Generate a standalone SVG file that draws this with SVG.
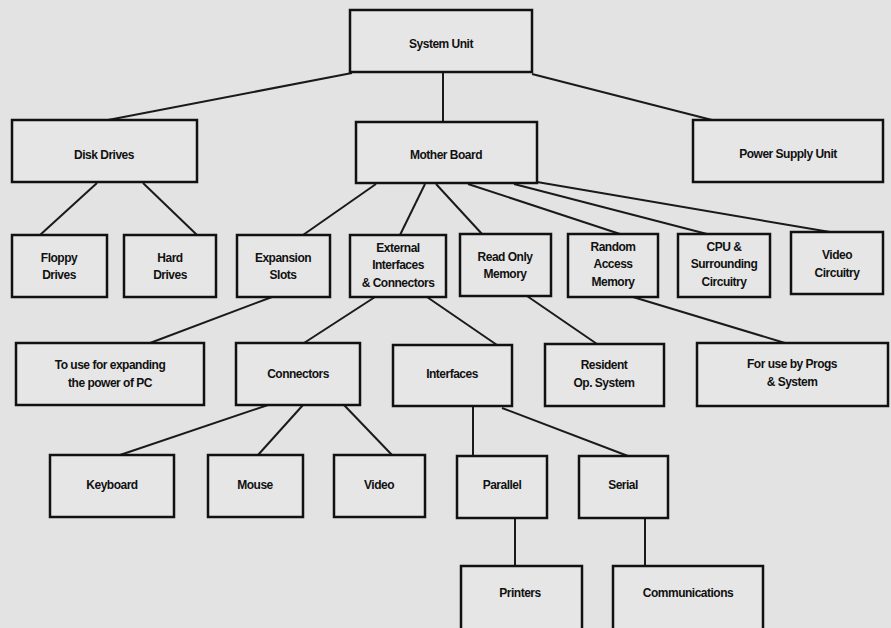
<svg xmlns="http://www.w3.org/2000/svg" width="891" height="628" viewBox="0 0 891 628">
<style>
.bg{fill:#e3e3e3}
.n rect{fill:#e6e6e6;stroke:#111;stroke-width:2.5}
.n text{font-family:"Liberation Sans",Arial,sans-serif;font-weight:bold;font-size:12px;letter-spacing:-0.5px;fill:#111;text-anchor:middle}
#edges line{stroke:#1a1a1a;stroke-width:2}
</style>
<rect class="bg" x="0" y="0" width="891" height="628"/>
<g id="edges">
<line x1="352" y1="73" x2="108" y2="120"/>
<line x1="443" y1="72" x2="443" y2="122"/>
<line x1="532" y1="74" x2="712" y2="120"/>
<line x1="97" y1="183" x2="40" y2="235"/>
<line x1="143" y1="183" x2="197" y2="235"/>
<line x1="376" y1="184" x2="303" y2="235"/>
<line x1="425" y1="184" x2="400" y2="235"/>
<line x1="436" y1="184" x2="482" y2="234"/>
<line x1="468" y1="184" x2="620" y2="234"/>
<line x1="514" y1="184" x2="707" y2="234"/>
<line x1="537" y1="182" x2="830" y2="232"/>
<line x1="272" y1="297" x2="150" y2="343"/>
<line x1="375" y1="297" x2="304" y2="343"/>
<line x1="427" y1="297" x2="497" y2="345"/>
<line x1="527" y1="296" x2="597" y2="344"/>
<line x1="633" y1="297" x2="785" y2="343"/>
<line x1="268" y1="405" x2="120" y2="455"/>
<line x1="303" y1="405" x2="258" y2="455"/>
<line x1="344" y1="405" x2="392" y2="455"/>
<line x1="473" y1="406" x2="473" y2="456"/>
<line x1="502" y1="408" x2="628" y2="456"/>
<line x1="515" y1="518" x2="515" y2="567"/>
<line x1="645" y1="518" x2="645" y2="567"/>
</g>
<g id="system-unit" class="n"><rect x="350" y="10" width="182" height="62"/><text x="441" y="48">System Unit</text></g>
<g id="disk-drives" class="n"><rect x="12" y="120" width="185" height="62"/><text x="104" y="159">Disk Drives</text></g>
<g id="mother-board" class="n"><rect x="356" y="122" width="181" height="61"/><text x="446" y="159">Mother Board</text></g>
<g id="power-supply" class="n"><rect x="693" y="120" width="190" height="62"/><text x="788" y="158">Power Supply Unit</text></g>
<g id="floppy" class="n"><rect x="12" y="235" width="95" height="62"/><text x="59" y="262">Floppy</text><text x="59" y="279">Drives</text></g>
<g id="hard" class="n"><rect x="124" y="235" width="92" height="62"/><text x="170" y="262">Hard</text><text x="170" y="279">Drives</text></g>
<g id="expansion" class="n"><rect x="237" y="235" width="93" height="62"/><text x="283" y="262">Expansion</text><text x="283" y="279">Slots</text></g>
<g id="external" class="n"><rect x="350" y="235" width="96" height="62"/><text x="398" y="252">External</text><text x="398" y="269">Interfaces</text><text x="398" y="287">&amp; Connectors</text></g>
<g id="rom" class="n"><rect x="460" y="234" width="91" height="62"/><text x="505" y="261">Read Only</text><text x="505" y="278">Memory</text></g>
<g id="ram" class="n"><rect x="568" y="234" width="90" height="63"/><text x="613" y="251">Random</text><text x="613" y="268">Access</text><text x="613" y="286">Memory</text></g>
<g id="cpu" class="n"><rect x="678" y="234" width="92" height="63"/><text x="724" y="251">CPU &amp;</text><text x="724" y="268">Surrounding</text><text x="724" y="286">Circuitry</text></g>
<g id="video-circuitry" class="n"><rect x="791" y="232" width="92" height="62"/><text x="837" y="259">Video</text><text x="837" y="277">Circuitry</text></g>
<g id="expanding" class="n"><rect x="16" y="343" width="188" height="62"/><text x="110" y="369">To use for expanding</text><text x="110" y="387">the power of PC</text></g>
<g id="connectors" class="n"><rect x="236" y="343" width="124" height="62"/><text x="298" y="378">Connectors</text></g>
<g id="interfaces" class="n"><rect x="393" y="345" width="119" height="61"/><text x="452" y="378">Interfaces</text></g>
<g id="resident" class="n"><rect x="545" y="344" width="119" height="62"/><text x="604" y="369">Resident</text><text x="604" y="387">Op. System</text></g>
<g id="progs" class="n"><rect x="697" y="343" width="191" height="63"/><text x="792" y="368">For use by Progs</text><text x="792" y="386">&amp; System</text></g>
<g id="keyboard" class="n"><rect x="50" y="455" width="124" height="62"/><text x="112" y="489">Keyboard</text></g>
<g id="mouse" class="n"><rect x="208" y="455" width="95" height="62"/><text x="255" y="489">Mouse</text></g>
<g id="video" class="n"><rect x="334" y="455" width="91" height="62"/><text x="379" y="489">Video</text></g>
<g id="parallel" class="n"><rect x="457" y="456" width="90" height="62"/><text x="502" y="489">Parallel</text></g>
<g id="serial" class="n"><rect x="579" y="456" width="89" height="62"/><text x="623" y="489">Serial</text></g>
<g id="printers" class="n"><rect x="461" y="566" width="121" height="70"/><text x="520" y="597">Printers</text></g>
<g id="communications" class="n"><rect x="613" y="566" width="150" height="70"/><text x="688" y="597">Communications</text></g>
</svg>
